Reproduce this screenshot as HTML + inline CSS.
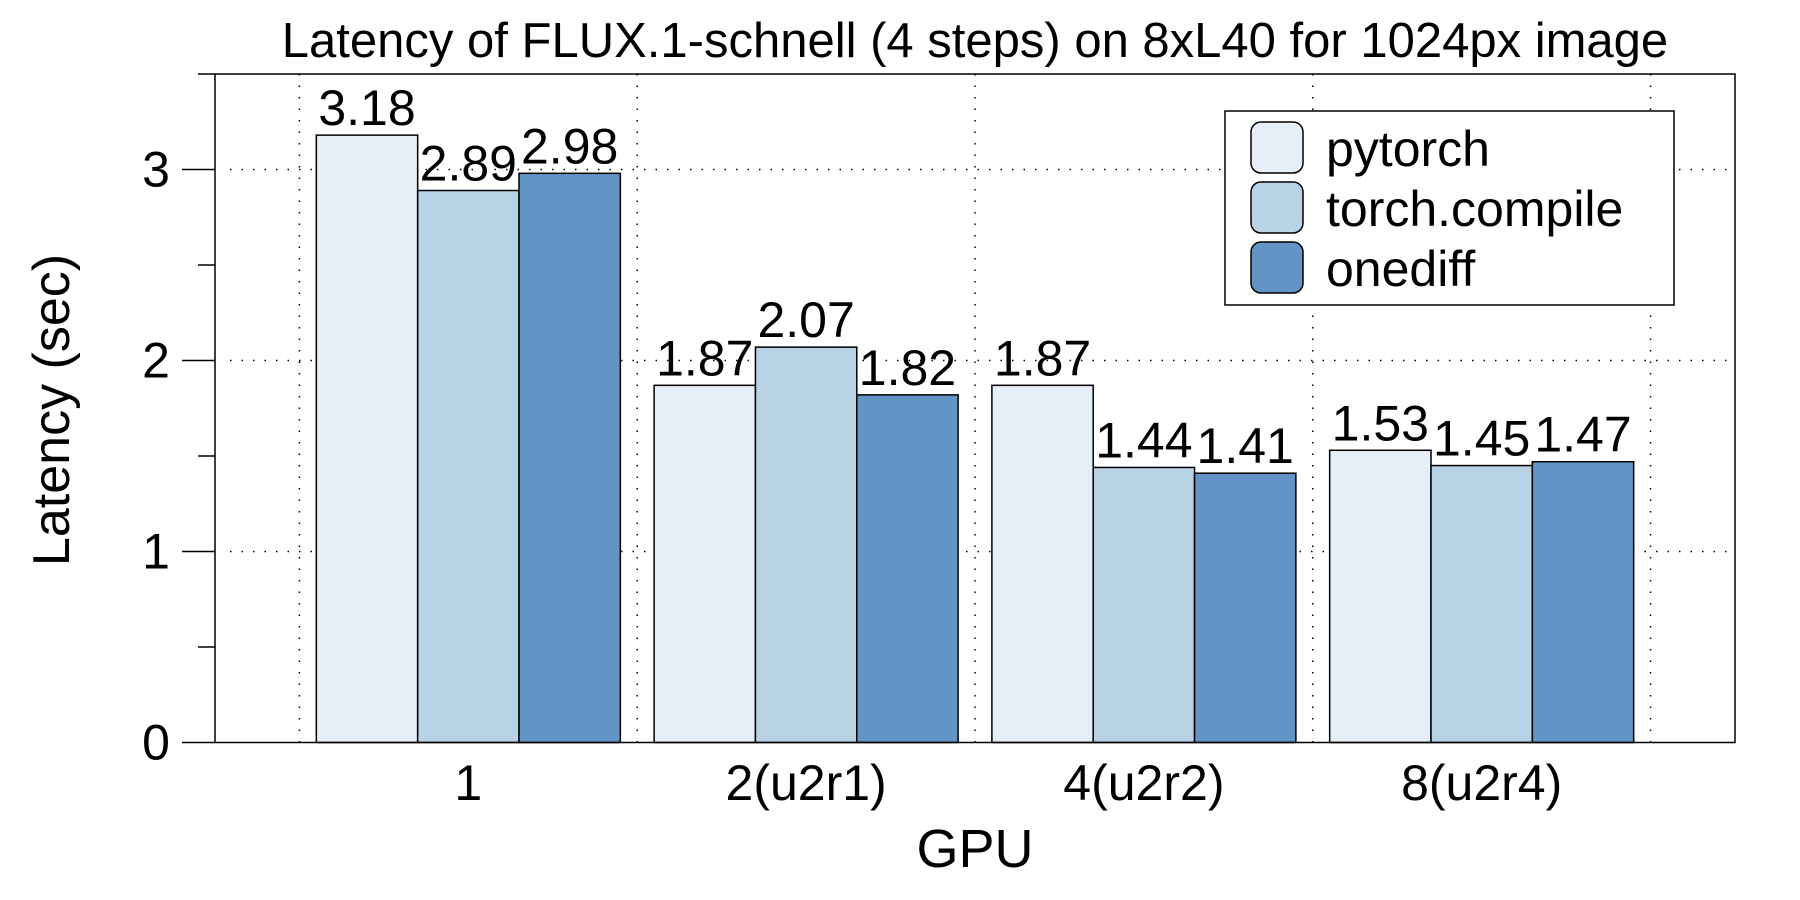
<!DOCTYPE html>
<html><head><meta charset="utf-8"><style>
body{margin:0;background:#fff}
svg{display:block;font-family:"Liberation Sans",Helvetica,Arial,sans-serif}
</style></head><body>
<svg id="chart" width="1800" height="900" viewBox="0 0 1800 900">
<text x="975" y="57" font-size="49" text-anchor="middle">Latency of FLUX.1-schnell (4 steps) on 8xL40 for 1024px image</text>
<g id="grid"></g>
<g id="bars"></g>
<g id="axes"></g>
<text transform="translate(69,410) rotate(-90)" font-size="52" text-anchor="middle">Latency (sec)</text>
<text x="975" y="867" font-size="54" text-anchor="middle">GPU</text>
<g id="legend">
<rect x="1225" y="111" width="449" height="194" fill="#fff" stroke="#000" stroke-width="1.5"/>
</g>
</svg>
<script>
const categories = ["1", "2(u2r1)", "4(u2r2)", "8(u2r4)"];
const seriesNames = ["pytorch", "torch.compile", "onediff"];
const pytorchValues = [3.18, 1.87, 1.87, 1.53];
const compileValues = [2.89, 2.07, 1.44, 1.45];
const onediffValues = [2.98, 1.82, 1.41, 1.47];
const valueLabels = [["3.18","1.87","1.87","1.53"],["2.89","2.07","1.44","1.45"],["2.98","1.82","1.41","1.47"]];
const yTicks = [0, 1, 2, 3];
const yMinor = [0.5, 1.5, 2.5, 3.5];

const NS = "http://www.w3.org/2000/svg";
const colors = ["#e6eef8", "#b8d3e6", "#6295c5"];
const series = [pytorchValues, compileValues, onediffValues];
const L = 215, R = 1735, T = 74, B = 742.5;
const xMin = -0.75, xMax = 3.75, yMax = 3.5;
const xs = v => L + (v - xMin) / (xMax - xMin) * (R - L);
const ys = v => B - v / yMax * (B - T);
function mk(tag, attrs, parent) {
  const e = document.createElementNS(NS, tag);
  for (const k in attrs) e.setAttribute(k, attrs[k]);
  parent.appendChild(e);
  return e;
}
const grid = document.getElementById("grid");
const bars = document.getElementById("bars");
const axes = document.getElementById("axes");
yTicks.slice(1).forEach(t => {
  const g = mk("line", {x1: L + 15, x2: R, y1: ys(t), y2: ys(t), stroke: "#000", "stroke-width": 1.5, "stroke-dasharray": "1.5 10"}, grid);
  
  
});
for (let i = 0; i <= categories.length; i++) {
  const x = xs(i - 0.5);
  const g = mk("line", {x1: x, x2: x, y1: T, y2: B, stroke: "#000", "stroke-width": 1.5, "stroke-dasharray": "1.5 10"}, grid);
  
  
}
const bw = 0.3;
categories.forEach((c, i) => {
  series.forEach((s, j) => {
    const x0 = xs(i - 0.45 + j * bw), x1 = xs(i - 0.45 + (j + 1) * bw);
    const r = mk("rect", {x: x0, y: ys(s[i]), width: x1 - x0, height: B - ys(s[i]), fill: colors[j], stroke: "#000", "stroke-width": 1.5}, bars);
    
    
    const t = mk("text", {x: (x0 + x1) / 2, y: ys(s[i]) - 10, "font-size": 50, "text-anchor": "middle"}, bars);
    t.textContent = valueLabels[j][i];
    
    
  });
  const xl = mk("text", {x: xs(i), y: 800, "font-size": 50, "text-anchor": "middle"}, axes);
  xl.textContent = c;
  
  
});
const frame = mk("rect", {x: L, y: T, width: R - L, height: B - T, fill: "none", stroke: "#000", "stroke-width": 1.5}, axes);


yTicks.forEach(t => {
  const l = mk("line", {x1: L - 33, x2: L, y1: ys(t), y2: ys(t), stroke: "#000", "stroke-width": 1.5}, axes);
  
  
  const tx = mk("text", {x: 156, y: ys(t) + 17, "font-size": 50, "text-anchor": "middle"}, axes);
  tx.textContent = String(t);
  
  
});
yMinor.forEach(t => {
  const l = mk("line", {x1: L - 17, x2: L, y1: ys(t), y2: ys(t), stroke: "#000", "stroke-width": 1.5}, axes);
  
  
});
const leg = document.getElementById("legend");
seriesNames.forEach((n, j) => {
  const y = 122 + j * 60;
  const sw = mk("rect", {x: 1251, y: y, width: 52, height: 51, rx: 10, fill: colors[j], stroke: "#000", "stroke-width": 1.5}, leg);
  
  
  const t = mk("text", {x: 1326, y: y + 44, "font-size": 50}, leg);
  t.textContent = n;
  
  
});
</script>
</body></html>
